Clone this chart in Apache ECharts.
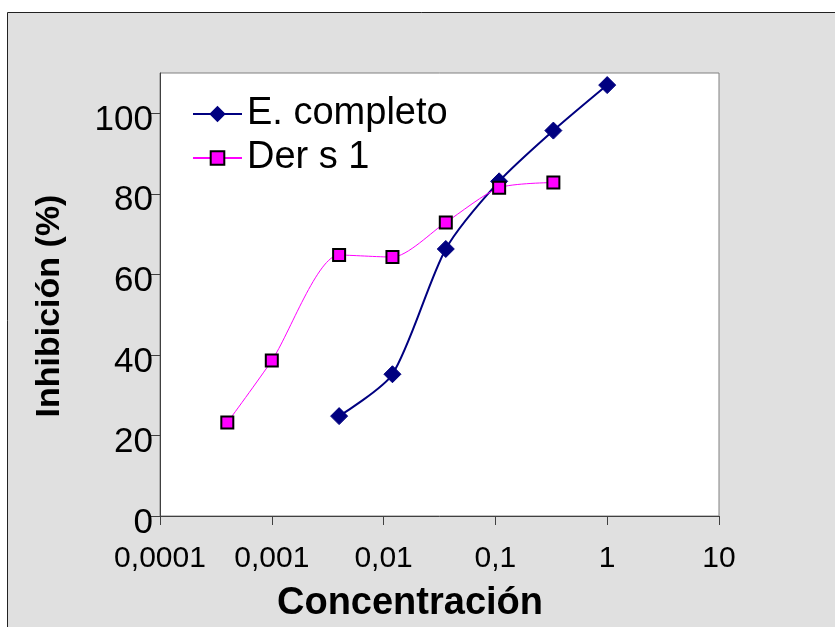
<!DOCTYPE html>
<html>
<head>
<meta charset="utf-8">
<script src="https://cdn.jsdelivr.net/npm/echarts@6/dist/echarts.min.js"></script>
<style>
  html, body { margin: 0; padding: 0; background: #ffffff; }
  #chart { width: 835px; height: 627px; }
</style>
</head>
<body>
<div id="chart"></div>
<script>
// Concentration (log scale) vs. inhibition (%)
const completoConc = [0.004, 0.012, 0.036, 0.108, 0.33, 1];
const completoInhib = [24.8, 35.2, 66.3, 83.1, 95.7, 107.0];

const ders1Conc = [0.0004, 0.001, 0.004, 0.012, 0.036, 0.108, 0.33];
const ders1Inhib = [23.2, 38.6, 64.8, 64.3, 72.9, 81.5, 82.8];

const xTickLabels = ['0,0001', '0,001', '0,01', '0,1', '1', '10'];
const yTickValues = [0, 20, 40, 60, 80, 100];

const seriesNames = ['E. completo', 'Der s 1'];

const FONT = '"Liberation Sans", Arial, sans-serif';

function pairs(xs, ys) {
  return xs.map((x, i) => [x, ys[i]]);
}

const chart = echarts.init(document.getElementById('chart'), null, { renderer: 'canvas' });

chart.setOption({
  animation: false,
  backgroundColor: '#ffffff',
  graphic: [
    {
      type: 'rect',
      z: -10,
      silent: true,
      shape: { x: 7.5, y: 12.5, width: 900, height: 700 },
      style: { fill: '#e0e0e0', stroke: '#222222', lineWidth: 1 }
    },
    {
      type: 'text',
      x: 410,
      y: 604,
      style: {
        text: 'Concentración',
        font: 'bold 38px ' + FONT,
        fill: '#000000',
        align: 'center',
        verticalAlign: 'middle'
      }
    },
    {
      type: 'text',
      x: 50,
      y: 306,
      rotation: Math.PI / 2,
      style: {
        text: 'Inhibición (%)',
        font: 'bold 34px ' + FONT,
        fill: '#000000',
        align: 'center',
        verticalAlign: 'middle'
      }
    }
  ],
  grid: {
    left: 160,
    top: 73,
    right: 116,
    bottom: 111,
    show: true,
    backgroundColor: '#ffffff',
    borderColor: '#808080',
    borderWidth: 1
  },
  legend: {
    orient: 'vertical',
    left: 192,
    top: 95,
    padding: 0,
    itemWidth: 49,
    itemHeight: 17,
    itemGap: 6,
    data: seriesNames,
    textStyle: {
      fontFamily: FONT,
      fontSize: 38,
      lineHeight: 34,
      color: '#000000'
    }
  },
  xAxis: {
    type: 'log',
    logBase: 10,
    min: 0.0001,
    max: 10,
    axisLine: { lineStyle: { color: '#404040', width: 1 } },
    axisTick: { show: true, length: 9, lineStyle: { color: '#404040' } },
    minorTick: { show: false },
    splitLine: { show: false },
    axisLabel: {
      margin: 28,
      fontFamily: FONT,
      fontSize: 30,
      color: '#000000',
      formatter: function (v) {
        const k = Math.round(Math.log10(v)) + 4;
        return xTickLabels[k] !== undefined ? xTickLabels[k] : '';
      }
    }
  },
  yAxis: {
    type: 'value',
    min: 0,
    max: 110,
    interval: 20,
    axisLine: { show: true, lineStyle: { color: '#404040', width: 1 } },
    axisTick: {
      show: true,
      length: 9,
      customValues: yTickValues,
      lineStyle: { color: '#404040' }
    },
    splitLine: { show: false },
    axisLabel: {
      customValues: yTickValues,
      margin: 7,
      verticalAlign: 'top',
      lineHeight: 14,
      fontFamily: FONT,
      fontSize: 35,
      color: '#000000'
    }
  },
  series: [
    {
      name: seriesNames[0],
      type: 'line',
      data: pairs(completoConc, completoInhib),
      smooth: 0.25,
      symbol: 'diamond',
      symbolSize: 17,
      lineStyle: { color: '#000080', width: 2 },
      itemStyle: { color: '#000080', borderColor: '#000080', borderWidth: 1 },
      z: 2
    },
    {
      name: seriesNames[1],
      type: 'line',
      data: pairs(ders1Conc, ders1Inhib),
      smooth: 0.25,
      symbol: 'rect',
      symbolSize: 12,
      lineStyle: { color: '#ff00ff', width: 1 },
      itemStyle: { color: '#ff00ff', borderColor: '#000000', borderWidth: 2 },
      z: 3
    }
  ]
});
</script>
</body>
</html>
